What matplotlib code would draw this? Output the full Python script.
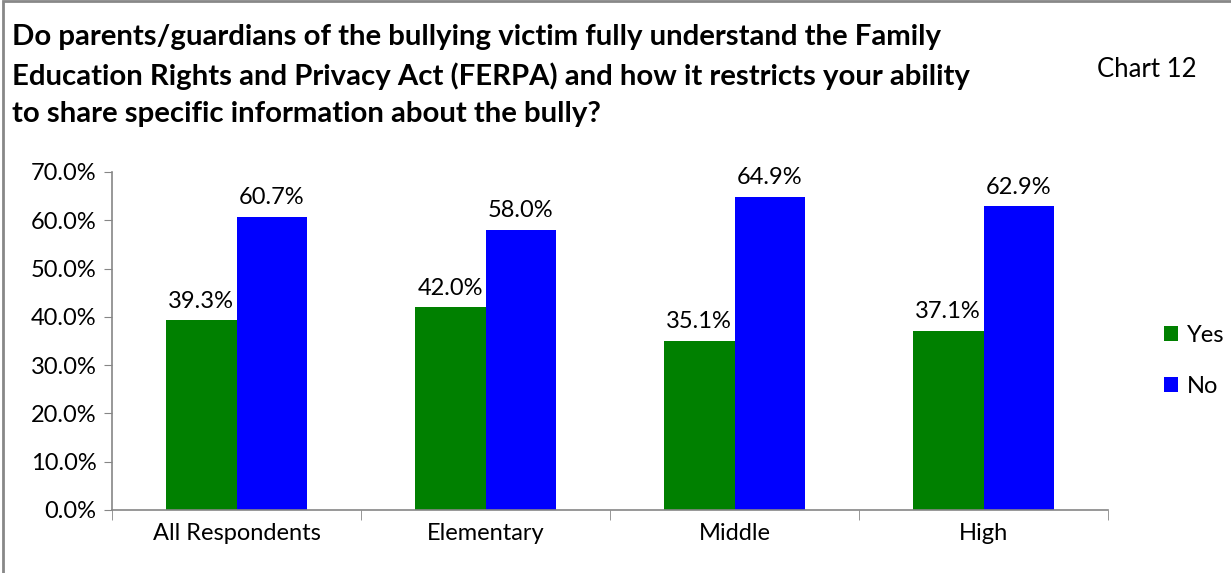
import numpy as np
import matplotlib.pyplot as plt
from matplotlib.patches import Rectangle

categories = ["All Respondents", "Elementary", "Middle", "High"]
yes_vals = [39.3, 42.0, 35.1, 37.1]
no_vals = [60.7, 58.0, 64.9, 62.9]
yticks = [0, 10, 20, 30, 40, 50, 60, 70]

plt.rcParams['font.family'] = ['Lato', 'DejaVu Sans']
fs = 17

fig = plt.figure(figsize=(12.31, 5.73), dpi=100)
ax = fig.add_axes([112/1231, 63/573, 996/1231, 338/573])

x = np.arange(len(categories))
w = 0.285
ax.bar(x - w/2, yes_vals, w, color="#008000", label="Yes")
ax.bar(x + w/2, no_vals, w, color="#0000FF", label="No")

for xi, v in zip(x - w/2, yes_vals):
    ax.text(xi, v + 1.8, f"{v:.1f}%", ha="center", va="bottom", fontsize=fs)
for xi, v in zip(x + w/2, no_vals):
    ax.text(xi, v + 1.8, f"{v:.1f}%", ha="center", va="bottom", fontsize=fs)

ax.set_xlim(-0.5, len(categories) - 0.5)
ax.set_ylim(0, 70)
ax.set_yticks(yticks)
ax.set_yticklabels([f"{t:.1f}%" for t in yticks], fontsize=fs)
ax.set_xticks(x)
ax.set_xticklabels(categories, fontsize=fs)
ax.tick_params(axis="x", length=0, pad=9)
ax.tick_params(axis="y", length=6, color="#868686", pad=5)
ax.set_xticks(np.arange(-0.5, len(categories)), minor=True)
ax.tick_params(axis="x", which="minor", length=7, color="#868686")
for s in ["top", "right"]:
    ax.spines[s].set_visible(False)
for s in ["left", "bottom"]:
    ax.spines[s].set_color("#868686")
    ax.spines[s].set_linewidth(1.2)

leg = fig.legend(loc="upper left", bbox_to_anchor=(1143/1231, 1 - 304/573),
                 frameon=False, fontsize=fs, handlelength=0.6, handleheight=0.6,
                 labelspacing=1.25, handletextpad=0.35)

fig.text(12/1231, 1 - 24/573,
         "Do parents/guardians of the bullying victim fully understand the Family\n"
         "Education Rights and Privacy Act (FERPA) and how it restricts your ability\n"
         "to share specific information about the bully?",
         ha="left", va="top", fontsize=21.2, fontweight="bold", linespacing=1.53)
fig.text(1097/1231, 1 - 70/573, "Chart 12", ha="left", va="center", fontsize=18.5)

fig.patches.append(Rectangle((3/1231, -0.1), 2, 1.1 - 1.0/573, transform=fig.transFigure,
                             fill=False, edgecolor="#888888", linewidth=2))

fig.savefig("out.png", dpi=100)
